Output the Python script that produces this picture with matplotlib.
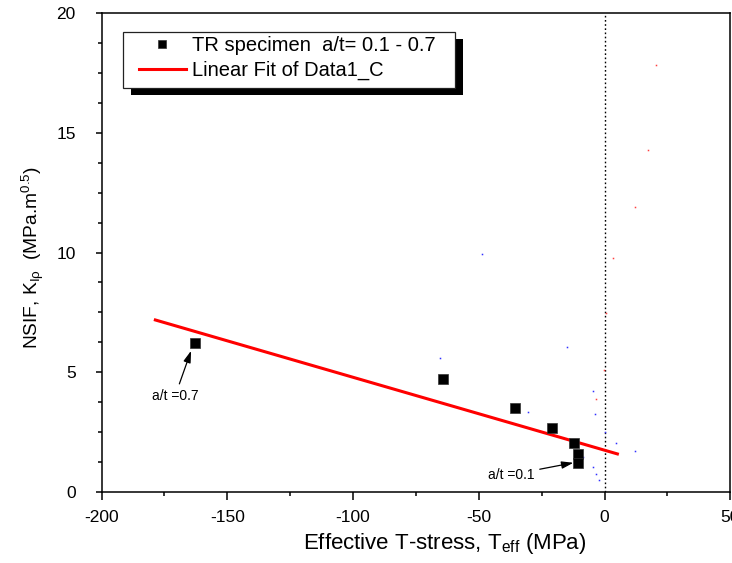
import matplotlib
matplotlib.use("Agg")
import matplotlib.pyplot as plt
from matplotlib.ticker import MultipleLocator, AutoMinorLocator
from matplotlib.patches import Rectangle

plt.rcParams['font.family'] = ['Liberation Sans', 'DejaVu Sans']
plt.rcParams['mathtext.fontset'] = 'custom'
plt.rcParams['mathtext.rm'] = 'Liberation Sans'
plt.rcParams['mathtext.it'] = 'Liberation Sans:italic'
plt.rcParams['axes.unicode_minus'] = False

# ---- data ----
t_eff = [-162.8, -64.3, -35.7, -21.0, -12.1, -10.4, -10.4]
k_ip = [6.23, 4.70, 3.49, 2.65, 2.05, 1.58, 1.20]
fit_x = [-178.6, 5.1]
fit_y = [7.18, 1.58]
# faint stray dots present in the original image
red_dots_x = [20.5, 17.4, 12.0, 3.5, 0.6, -0.2, -3.3]
red_dots_y = [17.83, 14.27, 11.91, 9.78, 7.46, 5.08, 3.89]
blue_dots_x = [-48.8, -65.4, -15.0, -30.3, -4.5, -3.8, 0.1, 4.5, 12.1, -8.4, -4.7, -3.3, -2.2]
blue_dots_y = [9.92, 5.59, 6.04, 3.34, 4.21, 3.24, 2.51, 2.05, 1.69, 1.46, 1.03, 0.73, 0.48]
xlim = (-200, 50)
ylim = (0, 20)
series_label = 'TR specimen  a/t= 0.1 - 0.7'
fit_label = 'Linear Fit of Data1_C'
ann_07 = dict(text='a/t =0.7', tip=(-164.4, 5.89), pos=(-170.8, 3.99))
ann_01 = dict(text='a/t =0.1', tip=(-12.4, 1.21), pos=(-37.2, 0.71))

fig = plt.figure(figsize=(7.32, 5.63), dpi=100)
ax = fig.add_axes([0.1387, 0.1266, 0.8590, 0.8498])

ax.axvline(0, color='black', linestyle=(0, (1.2, 1.8)), linewidth=1.0, zorder=1)

ax.plot(red_dots_x, red_dots_y, linestyle='none', marker='s', markersize=1.1,
        color='#ff4040', markeredgewidth=0, zorder=1)
ax.plot(blue_dots_x, blue_dots_y, linestyle='none', marker='s', markersize=1.1,
        color='#3030ff', markeredgewidth=0, zorder=1)

fit_line, = ax.plot(fit_x, fit_y, color='red', linewidth=2.2, zorder=2, label=fit_label)
pts, = ax.plot(t_eff, k_ip, linestyle='none', marker='s', markersize=6.8,
               color='black', markeredgecolor='#333333', markeredgewidth=0.5,
               zorder=3, label=series_label)

ax.set_xlim(*xlim)
ax.set_ylim(*ylim)
ax.xaxis.set_major_locator(MultipleLocator(50))
ax.xaxis.set_minor_locator(MultipleLocator(25))
ax.yaxis.set_major_locator(MultipleLocator(5))
ax.yaxis.set_minor_locator(AutoMinorLocator(4))

for s in ax.spines.values():
    s.set_linewidth(1.1)
ax.tick_params(axis='x', which='major', direction='out', length=6, width=1.1,
               labelsize=12.5, pad=7)
ax.tick_params(axis='x', which='minor', direction='out', length=3, width=1.1)
ax.tick_params(axis='y', which='major', direction='out', length=4.5, width=1.1,
               labelsize=12.5, pad=14)
ax.tick_params(axis='y', which='minor', direction='out', length=3, width=1.1)

ax.set_xlabel('Effective T-stress, T$_{\\mathrm{eff}}$ (MPa)', fontsize=16)
ax.xaxis.set_label_coords(0.546, -0.082)
ax.set_ylabel('NSIF, K$_{\\mathrm{I\u03c1}}$  (MPa.m$^{0.5}$)', fontsize=13.8)
ax.yaxis.set_label_coords(-0.088, 0.49)

arrowprops = dict(arrowstyle='-|>,head_length=0.7,head_width=0.22', color='black',
                  lw=0.9, shrinkA=2, shrinkB=0)
ax.annotate(ann_07['text'], xy=ann_07['tip'], xytext=ann_07['pos'],
            ha='center', va='center', fontsize=10, arrowprops=arrowprops)
ax.annotate(ann_01['text'], xy=ann_01['tip'], xytext=ann_01['pos'],
            ha='center', va='center', fontsize=10, arrowprops=arrowprops)

# legend (frame drawn separately to match original padding and hard shadow)
leg = ax.legend(handles=[pts, fit_line], loc='upper left',
                bbox_to_anchor=(0.0601, 0.952), frameon=False, fontsize=14.5,
                borderpad=0, borderaxespad=0, handlelength=2.3, handletextpad=0.3,
                labelspacing=0.28, markerscale=0.85)
leg.set_zorder(6)
fx0, fy0, fw, fh = 0.0347, 0.8445, 0.5275, 0.117
ax.add_patch(Rectangle((fx0 + 0.0125, fy0 - 0.0150), fw, fh, transform=ax.transAxes,
                       facecolor='black', edgecolor='none', zorder=4, clip_on=False))
ax.add_patch(Rectangle((fx0, fy0), fw, fh, transform=ax.transAxes,
                       facecolor='white', edgecolor='#222222', linewidth=0.9,
                       zorder=5, clip_on=False))

fig.savefig('out.png', dpi=100)
